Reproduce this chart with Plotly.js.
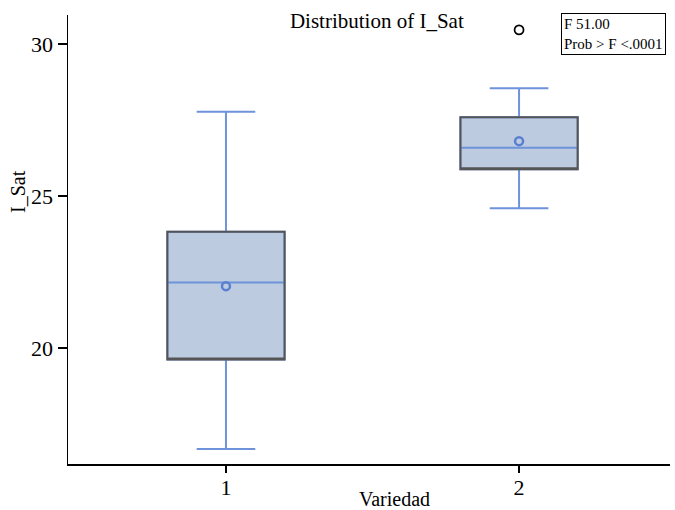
<!DOCTYPE html>
<html><head><meta charset="utf-8">
<script src="https://cdn.plot.ly/plotly-3.0.1.min.js"></script>
<style>html,body{margin:0;padding:0;background:#fff}</style>
</head><body><div id="chart" style="width:675px;height:510px"></div>
<script>
const categories = [1, 2];
const lowerWhisker = [16.67, 24.59];
const q1 = [19.62, 25.88];
const median = [22.15, 26.58];
const q3 = [23.82, 27.59];
const upperWhisker = [27.77, 28.54];
const means = [22.03, 26.80];
const outlierX = [2];
const outlierY = [30.46];
const tickVals = [20, 25, 30];

const serif = 'Liberation Serif, Times New Roman, serif';
const blue = '#6f93da';

const traces = [
  {type:'box', x:categories, q1:q1, median:median, q3:q3,
   lowerfence:lowerWhisker, upperfence:upperWhisker,
   fillcolor:'#bccbe0', line:{color:blue, width:2}, width:0.4, whiskerwidth:0.5,
   boxpoints:false, showlegend:false, hoverinfo:'skip'},
  {type:'box', x:categories, q1:q1, median:q1, q3:q3,
   lowerfence:q1, upperfence:q3,
   fillcolor:'rgba(0,0,0,0)', line:{color:'#555555', width:2}, width:0.4, whiskerwidth:0,
   boxpoints:false, showlegend:false, hoverinfo:'skip'},
  {type:'scatter', mode:'markers', x:categories, y:means,
   marker:{symbol:'circle-open', size:8, color:'#5a7fd0', line:{width:2.5, color:'#5a7fd0'}},
   showlegend:false, hoverinfo:'skip'},
  {type:'scatter', mode:'markers', x:outlierX, y:outlierY,
   marker:{symbol:'circle-open', size:9, color:'#000', line:{width:1.7, color:'#000'}},
   showlegend:false, hoverinfo:'skip'}
];

const layout = {
  width:675, height:510,
  margin:{l:68, r:5, t:15, b:46},
  paper_bgcolor:'#fff', plot_bgcolor:'#fff',
  boxmode:'overlay',
  font:{family:serif, color:'#000'},
  title:{text:'Distribution of I_Sat', font:{family:serif, size:21, color:'#000'},
         xref:'paper', x:0.513, xanchor:'center', yref:'container', y:0.96, yanchor:'middle'},
  xaxis:{range:[0.461, 2.515], tickvals:categories, ticktext:categories.map(String),
         showgrid:false, zeroline:false, showline:true, linecolor:'#000', linewidth:1.5,
         ticks:'outside', ticklen:7, tickwidth:1.5, tickcolor:'#000', ticklabelstandoff:-4,
         tickfont:{family:serif, size:22, color:'#000'}},
  yaxis:{range:[16.18, 30.95], tickvals:tickVals, showgrid:false, zeroline:false,
         showline:true, linecolor:'#000', linewidth:1.5,
         ticks:'outside', ticklen:9, tickwidth:1.5, tickcolor:'#000',
         tickfont:{family:serif, size:22, color:'#000'}},
  annotations:[
    {text:'I_Sat', textangle:-90, xref:'paper', yref:'y', x:-0.082, y:25.15,
     xanchor:'center', yanchor:'middle', showarrow:false,
     font:{family:serif, size:20, color:'#000'}},
    {text:'Variedad', xref:'paper', yref:'paper', x:0.542, y:-0.077,
     xanchor:'center', yanchor:'middle', showarrow:false,
     font:{family:serif, size:20, color:'#000'}},
    {text:'F 51.00<br>Prob > F <.0001', xref:'paper', yref:'paper', x:0.993, y:1.005,
     xanchor:'right', yanchor:'top', align:'left', showarrow:false,
     bordercolor:'#000', borderwidth:1, borderpad:2, bgcolor:'#fff',
     font:{family:serif, size:15, color:'#000'}}
  ]
};

Plotly.newPlot('chart', traces, layout, {displayModeBar:false, staticPlot:true});
</script></body></html>
